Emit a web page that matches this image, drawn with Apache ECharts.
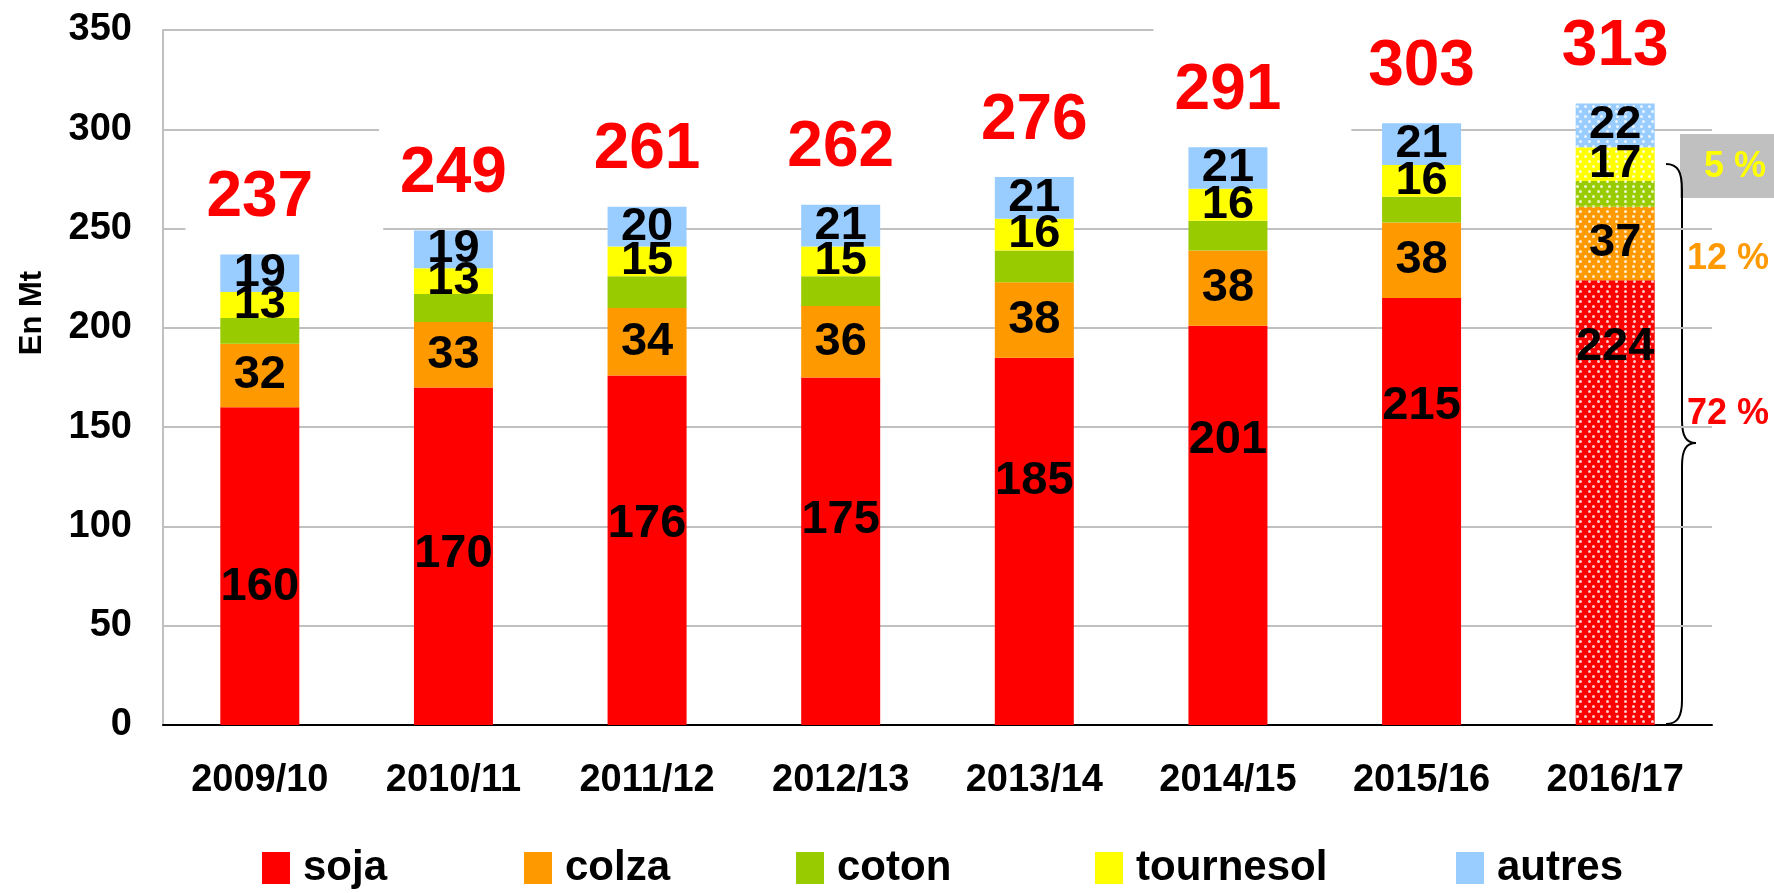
<!DOCTYPE html>
<html>
<head>
<meta charset="utf-8">
<script src="https://cdn.jsdelivr.net/npm/echarts@6/dist/echarts.min.js"></script>
<style>
html,body{margin:0;padding:0;background:#fff;}
#chart{width:1774px;height:893px;}
</style>
</head>
<body>
<div id="chart"></div>
<script>
const categories = ['2009/10','2010/11','2011/12','2012/13','2013/14','2014/15','2015/16','2016/17'];
const soja      = [160,170,176,175,185,201,215,224];
const colza     = [32,33,34,36,38,38,38,37];
const coton     = [13,14,16,15,16,15,13,13];
const tournesol = [13,13,15,15,16,16,16,17];
const autres    = [19,19,20,21,21,21,21,22];
const totals    = [237,249,261,262,276,291,303,313];
const seriesNames = ['soja','colza','coton','tournesol','autres'];
const shareTexts = ['5 %','12 %','72 %'];
const yMin = 0, yMax = 350, yStep = 50;

const FONT = 'Liberation Sans, Arial, sans-serif';

const colors = {soja:'#FF0000', colza:'#FF9900', coton:'#99CC00', tournesol:'#FFFF00', autres:'#99CCFF'};
const forecastIndex = categories.length - 1;
const decal = {
  symbol:'circle', symbolSize:1,
  dashArrayX:[[2.4,4.6],[0,3.5,2.4,1.1]],
  dashArrayY:[2.4,1.1],
  color:'rgba(255,255,255,0.8)'
};
// manual vertical nudges of the soja labels (as placed in the original)
const sojaLabelShift = [21,-2,-26,-31,-60,-85,-105,-156];

function seg(name, values, showLabel, shifts){
  return {
    name, type:'bar', stack:'total', barWidth:79, barGap:'-100%',
    itemStyle:{color:colors[name]},
    label:{show:showLabel, position:'inside', color:'#000', fontSize:47, fontWeight:'bold',
           fontFamily:FONT, lineHeight:47},
    data: values.map((v,i)=>{
      const d = {value:v};
      if (i === forecastIndex) d.itemStyle = {decal};
      if (shifts) d.label = {offset:[0, shifts[i]]};
      return d;
    })
  };
}

const legendLefts = [262, 524, 796, 1095, 1456];
const braceStyle = {fill:'none', stroke:'#000', lineWidth:2};

const option = {
  animation:false,
  backgroundColor:'#fff',
  grid:{left:163, right:62, top:30, bottom:168},
  xAxis:{
    type:'category', data:categories,
    axisLine:{lineStyle:{color:'#000', width:2}},
    axisTick:{show:false},
    axisLabel:{color:'#000', fontSize:38, fontWeight:'bold', fontFamily:FONT, margin:37}
  },
  yAxis:{
    type:'value', min:yMin, max:yMax, interval:yStep,
    axisLine:{show:true, lineStyle:{color:'#C0C0C0', width:2}},
    axisTick:{show:false},
    splitLine:{lineStyle:{color:'#C0C0C0', width:2}},
    axisLabel:{color:'#000', fontSize:38, fontWeight:'bold', fontFamily:FONT, margin:31}
  },
  legend: seriesNames.map((n,i)=>({
    data:[n], left:legendLefts[i], top:847, padding:0,
    itemWidth:28, itemHeight:32, icon:'rect', selectedMode:false,
    textStyle:{fontSize:42, fontWeight:'bold', color:'#000', fontFamily:FONT, padding:[0,0,0,8]}
  })),
  series:[
    seg('soja', soja, true, sojaLabelShift),
    seg('colza', colza, true),
    seg('coton', coton, false),
    seg('tournesol', tournesol, true),
    seg('autres', autres, true),
    {
      name:'total', type:'bar', barWidth:79, barGap:'-100%', silent:true,
      itemStyle:{color:'rgba(0,0,0,0)'},
      label:{show:true, position:'top', distance:6, color:'#FF0000', fontSize:64, fontWeight:'bold',
             fontFamily:FONT, lineHeight:64, backgroundColor:'#fff', padding:[32,70,18,21], offset:[24.5,0]},
      data:totals
    }
  ],
  graphic:[
    {type:'text', x:32, y:313, rotation:Math.PI/2,
     style:{text:'En Mt', font:'bold 31px ' + FONT, fill:'#000', align:'center', verticalAlign:'middle'}},
    {type:'rect', shape:{x:1680, y:134, width:94, height:64}, style:{fill:'#C0C0C0'}},
    {type:'text', x:1704, y:167, style:{text:shareTexts[0], font:'bold 36px ' + FONT, fill:'#FFFF00', align:'left', verticalAlign:'middle'}},
    {type:'text', x:1687, y:259, style:{text:shareTexts[1], font:'bold 36px ' + FONT, fill:'#FF9900', align:'left', verticalAlign:'middle'}},
    {type:'text', x:1687, y:414, style:{text:shareTexts[2], font:'bold 36px ' + FONT, fill:'#FF0000', align:'left', verticalAlign:'middle'}},
    {type:'bezierCurve', shape:{x1:1666,y1:164,x2:1682,y2:190,cpx1:1678,cpy1:164,cpx2:1682,cpy2:172}, style:braceStyle},
    {type:'line', shape:{x1:1682,y1:190,x2:1682,y2:420}, style:braceStyle},
    {type:'bezierCurve', shape:{x1:1682,y1:420,x2:1696,y2:443,cpx1:1682,cpy1:436,cpx2:1686,cpy2:443}, style:braceStyle},
    {type:'bezierCurve', shape:{x1:1696,y1:443,x2:1682,y2:466,cpx1:1686,cpy1:443,cpx2:1682,cpy2:450}, style:braceStyle},
    {type:'line', shape:{x1:1682,y1:466,x2:1682,y2:700}, style:braceStyle},
    {type:'bezierCurve', shape:{x1:1682,y1:700,x2:1666,y2:724,cpx1:1682,cpy1:716,cpx2:1678,cpy2:724}, style:braceStyle}
  ]
};

const chart = echarts.init(document.getElementById('chart'), null, {renderer:'canvas'});
chart.setOption(option);
</script>
</body>
</html>
